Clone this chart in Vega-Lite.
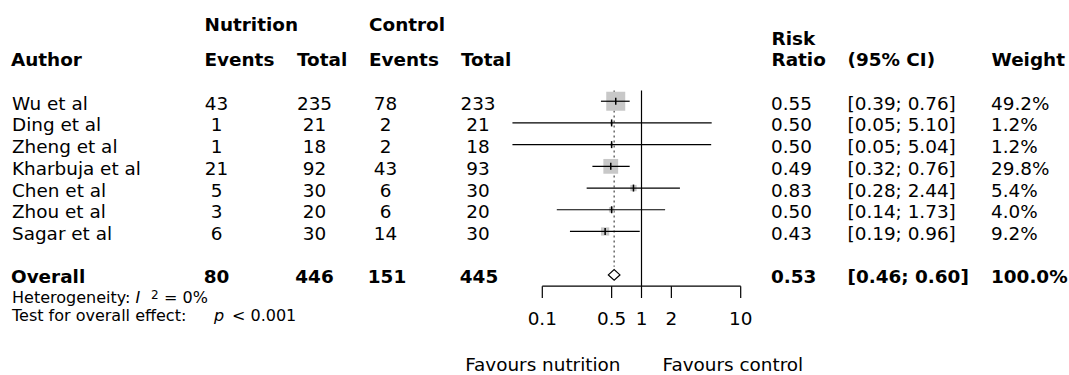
{
"$schema": "https://vega.github.io/schema/vega-lite/v6.json",
"width": 1069, "height": 375, "padding": 0,
"autosize": {"type": "fit", "contains": "padding"},
"background": "white",
"config": {"view": {"stroke": null}, "text": {"font": "DejaVu Sans", "fontSize": 18.4, "color": "black", "baseline": "middle", "dy": 2.5}},
"datasets": {
"studies": [
{"author": "Wu et al", "events_nutrition": 43, "total_nutrition": 235, "events_control": 78, "total_control": 233, "rr": 0.55, "lower": 0.39, "upper": 0.76, "ci": "[0.39; 0.76]", "weight": 0.492, "order": 1},
{"author": "Ding et al", "events_nutrition": 1, "total_nutrition": 21, "events_control": 2, "total_control": 21, "rr": 0.50, "lower": 0.05, "upper": 5.10, "ci": "[0.05; 5.10]", "weight": 0.012, "order": 2},
{"author": "Zheng et al", "events_nutrition": 1, "total_nutrition": 18, "events_control": 2, "total_control": 18, "rr": 0.50, "lower": 0.05, "upper": 5.04, "ci": "[0.05; 5.04]", "weight": 0.012, "order": 3},
{"author": "Kharbuja et al", "events_nutrition": 21, "total_nutrition": 92, "events_control": 43, "total_control": 93, "rr": 0.49, "lower": 0.32, "upper": 0.76, "ci": "[0.32; 0.76]", "weight": 0.298, "order": 4},
{"author": "Chen et al", "events_nutrition": 5, "total_nutrition": 30, "events_control": 6, "total_control": 30, "rr": 0.83, "lower": 0.28, "upper": 2.44, "ci": "[0.28; 2.44]", "weight": 0.054, "order": 5},
{"author": "Zhou et al", "events_nutrition": 3, "total_nutrition": 20, "events_control": 6, "total_control": 20, "rr": 0.50, "lower": 0.14, "upper": 1.73, "ci": "[0.14; 1.73]", "weight": 0.040, "order": 6},
{"author": "Sagar et al", "events_nutrition": 6, "total_nutrition": 30, "events_control": 14, "total_control": 30, "rr": 0.43, "lower": 0.19, "upper": 0.96, "ci": "[0.19; 0.96]", "weight": 0.092, "order": 7}
],
"overall": [
{"author": "Overall", "events_nutrition": 80, "total_nutrition": 446, "events_control": 151, "total_control": 445, "rr": 0.53, "lower": 0.46, "upper": 0.60, "ci": "[0.46; 0.60]", "weight": 1.0, "order": 9}
],
"ticks": [
{"value": 0.1, "label": "0.1"}, {"value": 0.5, "label": "0.5"}, {"value": 1, "label": "1"}, {"value": 2, "label": "2"}, {"value": 10, "label": "10"}
]
},
"layer": [
{"layer": [
{"data": {"values": [{"rr": 1}]}, "mark": {"type": "rule", "color": "black", "strokeWidth": 1.2},
 "encoding": {"x": {"field": "rr", "type": "quantitative", "scale": {"type": "log", "domain": [3.415e-7, 20390], "nice": false}, "axis": null},
  "y": {"datum": 0.505, "type": "quantitative", "scale": {"domain": [-3.664, 13.382], "reverse": true, "nice": false, "zero": false}, "axis": null}, "y2": {"datum": 9.518}}},
{"data": {"name": "overall"}, "mark": {"type": "rule", "color": "#444444", "strokeWidth": 1.2, "strokeDash": [2, 3]},
 "encoding": {"x": {"field": "rr", "type": "quantitative", "scale": {"type": "log", "domain": [3.415e-7, 20390], "nice": false}, "axis": null},
  "y": {"datum": 0.5, "type": "quantitative", "scale": {"domain": [-3.664, 13.382], "reverse": true, "nice": false, "zero": false}, "axis": null}, "y2": {"datum": 8.62}}},
{"data": {"name": "studies"}, "mark": {"type": "square", "filled": true, "color": "#c8c8c8", "opacity": 1},
 "encoding": {"x": {"field": "rr", "type": "quantitative", "scale": {"type": "log", "domain": [3.415e-7, 20390], "nice": false}, "axis": null},
  "y": {"field": "order", "type": "quantitative", "scale": {"domain": [-3.664, 13.382], "reverse": true, "nice": false, "zero": false}, "axis": null},
  "size": {"field": "weight", "type": "quantitative", "scale": {"domain": [0, 0.492], "range": [0, 361]}, "legend": null}}},
{"data": {"name": "studies"}, "mark": {"type": "rule", "color": "black", "strokeWidth": 1.2},
 "encoding": {"x": {"field": "lower", "type": "quantitative", "scale": {"type": "log", "domain": [3.415e-7, 20390], "nice": false}, "axis": null}, "x2": {"field": "upper"},
  "y": {"field": "order", "type": "quantitative", "scale": {"domain": [-3.664, 13.382], "reverse": true, "nice": false, "zero": false}, "axis": null}}},
{"data": {"name": "studies"}, "mark": {"type": "tick", "orient": "vertical", "color": "black", "size": 7, "thickness": 1.5, "opacity": 1},
 "encoding": {"x": {"field": "rr", "type": "quantitative", "scale": {"type": "log", "domain": [3.415e-7, 20390], "nice": false}, "axis": null},
  "y": {"field": "order", "type": "quantitative", "scale": {"domain": [-3.664, 13.382], "reverse": true, "nice": false, "zero": false}, "axis": null}}},
{"data": {"name": "overall"}, "mark": {"type": "point", "shape": "M-1,0L0,-0.92L1,0L0,0.92Z", "filled": true, "fill": "white", "stroke": "black", "strokeWidth": 1.2, "size": 135, "opacity": 1},
 "encoding": {"x": {"field": "rr", "type": "quantitative", "scale": {"type": "log", "domain": [3.415e-7, 20390], "nice": false}, "axis": null},
  "y": {"field": "order", "type": "quantitative", "scale": {"domain": [-3.664, 13.382], "reverse": true, "nice": false, "zero": false}, "axis": null}}},
{"data": {"name": "ticks"}, "transform": [{"aggregate": [{"op": "min", "field": "value", "as": "lo"}, {"op": "max", "field": "value", "as": "hi"}]}],
 "mark": {"type": "rule", "color": "black", "strokeWidth": 1.2},
 "encoding": {"x": {"field": "lo", "type": "quantitative", "scale": {"type": "log", "domain": [3.415e-7, 20390], "nice": false}, "axis": null}, "x2": {"field": "hi"},
  "y": {"datum": 9.518, "type": "quantitative", "scale": {"domain": [-3.664, 13.382], "reverse": true, "nice": false, "zero": false}, "axis": null}}},
{"data": {"name": "ticks"}, "mark": {"type": "rule", "color": "black", "strokeWidth": 1.2},
 "encoding": {"x": {"field": "value", "type": "quantitative", "scale": {"type": "log", "domain": [3.415e-7, 20390], "nice": false}, "axis": null},
  "y": {"datum": 9.518, "type": "quantitative", "scale": {"domain": [-3.664, 13.382], "reverse": true, "nice": false, "zero": false}, "axis": null}, "y2": {"datum": 10.064}}},
{"data": {"name": "ticks"}, "mark": {"type": "text", "align": "center"},
 "encoding": {"x": {"field": "value", "type": "quantitative", "scale": {"type": "log", "domain": [3.415e-7, 20390], "nice": false}, "axis": null},
  "y": {"datum": 10.93, "type": "quantitative", "scale": {"domain": [-3.664, 13.382], "reverse": true, "nice": false, "zero": false}, "axis": null}, "text": {"field": "label"}}},
{"data": {"values": [{"rr": 1, "label": "Favours nutrition"}]}, "mark": {"type": "text", "align": "right", "dx": -21},
 "encoding": {"x": {"field": "rr", "type": "quantitative", "scale": {"type": "log", "domain": [3.415e-7, 20390], "nice": false}, "axis": null},
  "y": {"datum": 13.03, "type": "quantitative", "scale": {"domain": [-3.664, 13.382], "reverse": true, "nice": false, "zero": false}, "axis": null}, "text": {"field": "label"}}},
{"data": {"values": [{"rr": 1, "label": "Favours control"}]}, "mark": {"type": "text", "align": "left", "dx": 21},
 "encoding": {"x": {"field": "rr", "type": "quantitative", "scale": {"type": "log", "domain": [3.415e-7, 20390], "nice": false}, "axis": null},
  "y": {"datum": 13.03, "type": "quantitative", "scale": {"domain": [-3.664, 13.382], "reverse": true, "nice": false, "zero": false}, "axis": null}, "text": {"field": "label"}}}
]},
{"layer": [
{"data": {"name": "studies"}, "mark": {"type": "text", "align": "left"},
 "encoding": {"x": {"datum": 12, "type": "quantitative", "scale": {"domain": [0, 1069], "nice": false, "zero": false}, "axis": null},
  "y": {"field": "order", "type": "quantitative", "scale": {"domain": [-3.664, 13.382], "reverse": true, "nice": false, "zero": false}, "axis": null}, "text": {"field": "author"}}},
{"data": {"name": "studies"}, "mark": {"type": "text", "align": "center"},
 "encoding": {"x": {"datum": 216.5, "type": "quantitative", "scale": {"domain": [0, 1069], "nice": false, "zero": false}, "axis": null},
  "y": {"field": "order", "type": "quantitative", "scale": {"domain": [-3.664, 13.382], "reverse": true, "nice": false, "zero": false}, "axis": null}, "text": {"field": "events_nutrition", "type": "nominal"}}},
{"data": {"name": "studies"}, "mark": {"type": "text", "align": "center"},
 "encoding": {"x": {"datum": 314.5, "type": "quantitative", "scale": {"domain": [0, 1069], "nice": false, "zero": false}, "axis": null},
  "y": {"field": "order", "type": "quantitative", "scale": {"domain": [-3.664, 13.382], "reverse": true, "nice": false, "zero": false}, "axis": null}, "text": {"field": "total_nutrition", "type": "nominal"}}},
{"data": {"name": "studies"}, "mark": {"type": "text", "align": "center"},
 "encoding": {"x": {"datum": 385.5, "type": "quantitative", "scale": {"domain": [0, 1069], "nice": false, "zero": false}, "axis": null},
  "y": {"field": "order", "type": "quantitative", "scale": {"domain": [-3.664, 13.382], "reverse": true, "nice": false, "zero": false}, "axis": null}, "text": {"field": "events_control", "type": "nominal"}}},
{"data": {"name": "studies"}, "mark": {"type": "text", "align": "center"},
 "encoding": {"x": {"datum": 478, "type": "quantitative", "scale": {"domain": [0, 1069], "nice": false, "zero": false}, "axis": null},
  "y": {"field": "order", "type": "quantitative", "scale": {"domain": [-3.664, 13.382], "reverse": true, "nice": false, "zero": false}, "axis": null}, "text": {"field": "total_control", "type": "nominal"}}},
{"data": {"name": "studies"}, "mark": {"type": "text", "align": "left"},
 "encoding": {"x": {"datum": 771, "type": "quantitative", "scale": {"domain": [0, 1069], "nice": false, "zero": false}, "axis": null},
  "y": {"field": "order", "type": "quantitative", "scale": {"domain": [-3.664, 13.382], "reverse": true, "nice": false, "zero": false}, "axis": null}, "text": {"field": "rr", "type": "quantitative", "format": ".2f"}}},
{"data": {"name": "studies"}, "mark": {"type": "text", "align": "left"},
 "encoding": {"x": {"datum": 847.5, "type": "quantitative", "scale": {"domain": [0, 1069], "nice": false, "zero": false}, "axis": null},
  "y": {"field": "order", "type": "quantitative", "scale": {"domain": [-3.664, 13.382], "reverse": true, "nice": false, "zero": false}, "axis": null}, "text": {"field": "ci"}}},
{"data": {"name": "studies"}, "mark": {"type": "text", "align": "left"},
 "encoding": {"x": {"datum": 991, "type": "quantitative", "scale": {"domain": [0, 1069], "nice": false, "zero": false}, "axis": null},
  "y": {"field": "order", "type": "quantitative", "scale": {"domain": [-3.664, 13.382], "reverse": true, "nice": false, "zero": false}, "axis": null}, "text": {"field": "weight", "type": "quantitative", "format": ".1%"}}},

{"data": {"name": "overall"}, "mark": {"type": "text", "align": "left", "fontWeight": "bold"},
 "encoding": {"x": {"datum": 11, "type": "quantitative", "scale": {"domain": [0, 1069], "nice": false, "zero": false}, "axis": null},
  "y": {"field": "order", "type": "quantitative", "scale": {"domain": [-3.664, 13.382], "reverse": true, "nice": false, "zero": false}, "axis": null}, "text": {"field": "author"}}},
{"data": {"name": "overall"}, "mark": {"type": "text", "align": "center", "fontWeight": "bold"},
 "encoding": {"x": {"datum": 216.5, "type": "quantitative", "scale": {"domain": [0, 1069], "nice": false, "zero": false}, "axis": null},
  "y": {"field": "order", "type": "quantitative", "scale": {"domain": [-3.664, 13.382], "reverse": true, "nice": false, "zero": false}, "axis": null}, "text": {"field": "events_nutrition", "type": "nominal"}}},
{"data": {"name": "overall"}, "mark": {"type": "text", "align": "center", "fontWeight": "bold"},
 "encoding": {"x": {"datum": 314.5, "type": "quantitative", "scale": {"domain": [0, 1069], "nice": false, "zero": false}, "axis": null},
  "y": {"field": "order", "type": "quantitative", "scale": {"domain": [-3.664, 13.382], "reverse": true, "nice": false, "zero": false}, "axis": null}, "text": {"field": "total_nutrition", "type": "nominal"}}},
{"data": {"name": "overall"}, "mark": {"type": "text", "align": "center", "fontWeight": "bold"},
 "encoding": {"x": {"datum": 387, "type": "quantitative", "scale": {"domain": [0, 1069], "nice": false, "zero": false}, "axis": null},
  "y": {"field": "order", "type": "quantitative", "scale": {"domain": [-3.664, 13.382], "reverse": true, "nice": false, "zero": false}, "axis": null}, "text": {"field": "events_control", "type": "nominal"}}},
{"data": {"name": "overall"}, "mark": {"type": "text", "align": "center", "fontWeight": "bold"},
 "encoding": {"x": {"datum": 479, "type": "quantitative", "scale": {"domain": [0, 1069], "nice": false, "zero": false}, "axis": null},
  "y": {"field": "order", "type": "quantitative", "scale": {"domain": [-3.664, 13.382], "reverse": true, "nice": false, "zero": false}, "axis": null}, "text": {"field": "total_control", "type": "nominal"}}},
{"data": {"name": "overall"}, "mark": {"type": "text", "align": "left", "fontWeight": "bold"},
 "encoding": {"x": {"datum": 771, "type": "quantitative", "scale": {"domain": [0, 1069], "nice": false, "zero": false}, "axis": null},
  "y": {"field": "order", "type": "quantitative", "scale": {"domain": [-3.664, 13.382], "reverse": true, "nice": false, "zero": false}, "axis": null}, "text": {"field": "rr", "type": "quantitative", "format": ".2f"}}},
{"data": {"name": "overall"}, "mark": {"type": "text", "align": "left", "fontWeight": "bold"},
 "encoding": {"x": {"datum": 847.5, "type": "quantitative", "scale": {"domain": [0, 1069], "nice": false, "zero": false}, "axis": null},
  "y": {"field": "order", "type": "quantitative", "scale": {"domain": [-3.664, 13.382], "reverse": true, "nice": false, "zero": false}, "axis": null}, "text": {"field": "ci"}}},
{"data": {"name": "overall"}, "mark": {"type": "text", "align": "left", "fontWeight": "bold"},
 "encoding": {"x": {"datum": 991, "type": "quantitative", "scale": {"domain": [0, 1069], "nice": false, "zero": false}, "axis": null},
  "y": {"field": "order", "type": "quantitative", "scale": {"domain": [-3.664, 13.382], "reverse": true, "nice": false, "zero": false}, "axis": null}, "text": {"field": "weight", "type": "quantitative", "format": ".1%"}}},

{"data": {"values": [{"label": "Author"}]}, "mark": {"type": "text", "align": "left", "fontWeight": "bold"},
 "encoding": {"x": {"datum": 11, "type": "quantitative", "scale": {"domain": [0, 1069], "nice": false, "zero": false}, "axis": null},
  "y": {"datum": -1, "type": "quantitative", "scale": {"domain": [-3.664, 13.382], "reverse": true, "nice": false, "zero": false}, "axis": null}, "text": {"field": "label"}}},
{"data": {"values": [{"label": "Nutrition"}]}, "mark": {"type": "text", "align": "left", "fontWeight": "bold"},
 "encoding": {"x": {"datum": 204.5, "type": "quantitative", "scale": {"domain": [0, 1069], "nice": false, "zero": false}, "axis": null},
  "y": {"datum": -2.62, "type": "quantitative", "scale": {"domain": [-3.664, 13.382], "reverse": true, "nice": false, "zero": false}, "axis": null}, "text": {"field": "label"}}},
{"data": {"values": [{"label": "Events"}]}, "mark": {"type": "text", "align": "left", "fontWeight": "bold"},
 "encoding": {"x": {"datum": 204.5, "type": "quantitative", "scale": {"domain": [0, 1069], "nice": false, "zero": false}, "axis": null},
  "y": {"datum": -1, "type": "quantitative", "scale": {"domain": [-3.664, 13.382], "reverse": true, "nice": false, "zero": false}, "axis": null}, "text": {"field": "label"}}},
{"data": {"values": [{"label": "Total"}]}, "mark": {"type": "text", "align": "left", "fontWeight": "bold"},
 "encoding": {"x": {"datum": 297, "type": "quantitative", "scale": {"domain": [0, 1069], "nice": false, "zero": false}, "axis": null},
  "y": {"datum": -1, "type": "quantitative", "scale": {"domain": [-3.664, 13.382], "reverse": true, "nice": false, "zero": false}, "axis": null}, "text": {"field": "label"}}},
{"data": {"values": [{"label": "Control"}]}, "mark": {"type": "text", "align": "left", "fontWeight": "bold"},
 "encoding": {"x": {"datum": 369, "type": "quantitative", "scale": {"domain": [0, 1069], "nice": false, "zero": false}, "axis": null},
  "y": {"datum": -2.62, "type": "quantitative", "scale": {"domain": [-3.664, 13.382], "reverse": true, "nice": false, "zero": false}, "axis": null}, "text": {"field": "label"}}},
{"data": {"values": [{"label": "Events"}]}, "mark": {"type": "text", "align": "left", "fontWeight": "bold"},
 "encoding": {"x": {"datum": 369, "type": "quantitative", "scale": {"domain": [0, 1069], "nice": false, "zero": false}, "axis": null},
  "y": {"datum": -1, "type": "quantitative", "scale": {"domain": [-3.664, 13.382], "reverse": true, "nice": false, "zero": false}, "axis": null}, "text": {"field": "label"}}},
{"data": {"values": [{"label": "Total"}]}, "mark": {"type": "text", "align": "left", "fontWeight": "bold"},
 "encoding": {"x": {"datum": 461, "type": "quantitative", "scale": {"domain": [0, 1069], "nice": false, "zero": false}, "axis": null},
  "y": {"datum": -1, "type": "quantitative", "scale": {"domain": [-3.664, 13.382], "reverse": true, "nice": false, "zero": false}, "axis": null}, "text": {"field": "label"}}},
{"data": {"values": [{"label": "Risk"}]}, "mark": {"type": "text", "align": "left", "fontWeight": "bold"},
 "encoding": {"x": {"datum": 771.5, "type": "quantitative", "scale": {"domain": [0, 1069], "nice": false, "zero": false}, "axis": null},
  "y": {"datum": -2, "type": "quantitative", "scale": {"domain": [-3.664, 13.382], "reverse": true, "nice": false, "zero": false}, "axis": null}, "text": {"field": "label"}}},
{"data": {"values": [{"label": "Ratio"}]}, "mark": {"type": "text", "align": "left", "fontWeight": "bold"},
 "encoding": {"x": {"datum": 771.5, "type": "quantitative", "scale": {"domain": [0, 1069], "nice": false, "zero": false}, "axis": null},
  "y": {"datum": -1, "type": "quantitative", "scale": {"domain": [-3.664, 13.382], "reverse": true, "nice": false, "zero": false}, "axis": null}, "text": {"field": "label"}}},
{"data": {"values": [{"label": "(95% CI)"}]}, "mark": {"type": "text", "align": "left", "fontWeight": "bold"},
 "encoding": {"x": {"datum": 847.5, "type": "quantitative", "scale": {"domain": [0, 1069], "nice": false, "zero": false}, "axis": null},
  "y": {"datum": -1, "type": "quantitative", "scale": {"domain": [-3.664, 13.382], "reverse": true, "nice": false, "zero": false}, "axis": null}, "text": {"field": "label"}}},
{"data": {"values": [{"label": "Weight"}]}, "mark": {"type": "text", "align": "left", "fontWeight": "bold"},
 "encoding": {"x": {"datum": 991.5, "type": "quantitative", "scale": {"domain": [0, 1069], "nice": false, "zero": false}, "axis": null},
  "y": {"datum": -1, "type": "quantitative", "scale": {"domain": [-3.664, 13.382], "reverse": true, "nice": false, "zero": false}, "axis": null}, "text": {"field": "label"}}},

{"data": {"values": [{"label": "Heterogeneity:"}]}, "mark": {"type": "text", "align": "left", "fontSize": 16},
 "encoding": {"x": {"datum": 12, "type": "quantitative", "scale": {"domain": [0, 1069], "nice": false, "zero": false}, "axis": null},
  "y": {"datum": 9.96, "type": "quantitative", "scale": {"domain": [-3.664, 13.382], "reverse": true, "nice": false, "zero": false}, "axis": null}, "text": {"field": "label"}}},
{"data": {"values": [{"label": "I"}]}, "mark": {"type": "text", "align": "left", "fontSize": 16, "fontStyle": "italic"},
 "encoding": {"x": {"datum": 135.5, "type": "quantitative", "scale": {"domain": [0, 1069], "nice": false, "zero": false}, "axis": null},
  "y": {"datum": 9.96, "type": "quantitative", "scale": {"domain": [-3.664, 13.382], "reverse": true, "nice": false, "zero": false}, "axis": null}, "text": {"field": "label"}}},
{"data": {"values": [{"label": "2"}]}, "mark": {"type": "text", "align": "left", "fontSize": 12},
 "encoding": {"x": {"datum": 151, "type": "quantitative", "scale": {"domain": [0, 1069], "nice": false, "zero": false}, "axis": null},
  "y": {"datum": 9.83, "type": "quantitative", "scale": {"domain": [-3.664, 13.382], "reverse": true, "nice": false, "zero": false}, "axis": null}, "text": {"field": "label"}}},
{"data": {"values": [{"label": "= 0%"}]}, "mark": {"type": "text", "align": "left", "fontSize": 16},
 "encoding": {"x": {"datum": 164, "type": "quantitative", "scale": {"domain": [0, 1069], "nice": false, "zero": false}, "axis": null},
  "y": {"datum": 9.96, "type": "quantitative", "scale": {"domain": [-3.664, 13.382], "reverse": true, "nice": false, "zero": false}, "axis": null}, "text": {"field": "label"}}},
{"data": {"values": [{"label": "Test for overall effect:"}]}, "mark": {"type": "text", "align": "left", "fontSize": 16},
 "encoding": {"x": {"datum": 12, "type": "quantitative", "scale": {"domain": [0, 1069], "nice": false, "zero": false}, "axis": null},
  "y": {"datum": 10.78, "type": "quantitative", "scale": {"domain": [-3.664, 13.382], "reverse": true, "nice": false, "zero": false}, "axis": null}, "text": {"field": "label"}}},
{"data": {"values": [{"label": "p"}]}, "mark": {"type": "text", "align": "left", "fontSize": 16, "fontStyle": "italic"},
 "encoding": {"x": {"datum": 214, "type": "quantitative", "scale": {"domain": [0, 1069], "nice": false, "zero": false}, "axis": null},
  "y": {"datum": 10.78, "type": "quantitative", "scale": {"domain": [-3.664, 13.382], "reverse": true, "nice": false, "zero": false}, "axis": null}, "text": {"field": "label"}}},
{"data": {"values": [{"label": "< 0.001"}]}, "mark": {"type": "text", "align": "left", "fontSize": 16},
 "encoding": {"x": {"datum": 232, "type": "quantitative", "scale": {"domain": [0, 1069], "nice": false, "zero": false}, "axis": null},
  "y": {"datum": 10.78, "type": "quantitative", "scale": {"domain": [-3.664, 13.382], "reverse": true, "nice": false, "zero": false}, "axis": null}, "text": {"field": "label"}}}
]}
],
"resolve": {"scale": {"x": "independent"}}
}
